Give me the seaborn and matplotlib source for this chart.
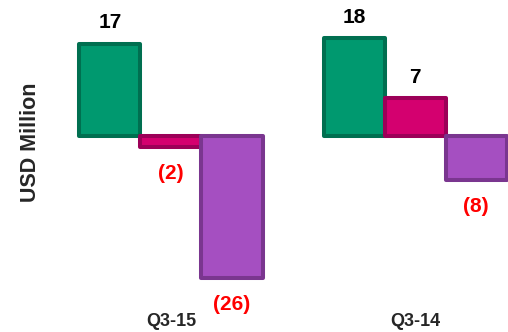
import pandas as pd
import matplotlib.pyplot as plt
import seaborn as sns

# data
periods = ["Q3-15", "Q3-14"]
components = ["Part 1", "Part 2", "Part 3"]
values_q315 = [17, -2, -26]
values_q314 = [18, 7, -8]

fill_colors = ["#00996f", "#d4006f", "#a54fc1"]
edge_colors = ["#006f50", "#9c0058", "#7a368f"]

rows = []
for g, (period, vals) in enumerate(zip(periods, [values_q315, values_q314])):
    for i, (comp, v) in enumerate(zip(components, vals)):
        rows.append({"period": period, "component": comp, "pos": g * 4 + i, "value": v})
df = pd.DataFrame(rows)

sns.set_theme(style="white")
plt.rcParams['font.family'] = ['Liberation Sans', 'DejaVu Sans']

fig = plt.figure(figsize=(5.08, 3.32), dpi=100)
ax = fig.add_axes([0, 20 / 332, 1, 312 / 332])

sns.barplot(data=df, x="pos", y="value", hue="component", palette=fill_colors,
            native_scale=True, dodge=False, width=1, saturation=1,
            legend=False, ax=ax)

for cont, ec in zip(ax.containers, edge_colors):
    for bar in cont:
        bar.set_edgecolor(ec)
        bar.set_linewidth(2.9)
        bar.set_joinstyle("round")

# value labels
for _, r in df.iterrows():
    v = r["value"]
    if v >= 0:
        ax.annotate(str(v), (r["pos"], v), xytext=(0, 15), textcoords="offset points",
                    ha="center", va="center", fontsize=15, fontweight="bold", color="black")
    else:
        ax.annotate(f"({-v})", (r["pos"], v), xytext=(0, -19), textcoords="offset points",
                    ha="center", va="center", fontsize=15, fontweight="bold", color="#ff0000")

ax.set_xlim(-1.8, 6.52)
ax.set_ylim(-32.3, 25)
ax.set_xticks([1, 5])
ax.set_xticklabels(periods, fontsize=13, fontweight="bold")
ax.tick_params(axis="x", length=0, pad=1)
ax.set_yticks([])
ax.set_xlabel("")
ax.set_ylabel("USD Million", fontsize=15.5, fontweight="bold")
ax.yaxis.set_label_coords(41 / 508, (312 - 142) / 312)
sns.despine(ax=ax, left=True, bottom=True)

fig.savefig("out.png", dpi=100)
